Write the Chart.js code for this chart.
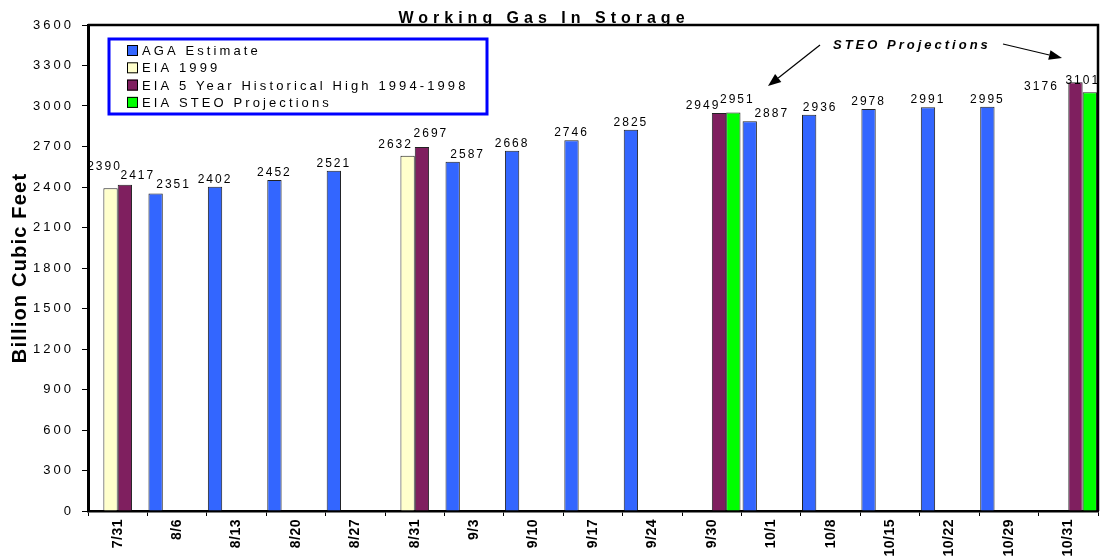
<!DOCTYPE html>
<html>
<head>
<meta charset="utf-8">
<title>Working Gas In Storage</title>
<script src="https://cdn.jsdelivr.net/npm/chart.js@4.4.1/dist/chart.umd.min.js"></script>
<style>
  html, body { margin: 0; padding: 0; background: #fff; }
</style>
</head>
<body>
<canvas id="gasChart" width="1107" height="556"></canvas>
<script>
// Week labels and storage levels (Bcf)
const weeks = ['7/31', '8/6', '8/13', '8/20', '8/27', '8/31', '9/3', '9/10', '9/17',
               '9/24', '9/30', '10/1', '10/8', '10/15', '10/22', '10/29', '10/31'];
const agaEstimate = [null, 2351, 2402, 2452, 2521, null, 2587, 2668, 2746,
                     2825, null, 2887, 2936, 2978, 2991, 2995, null];
const eia1999 = [2390, null, null, null, null, 2632, null, null, null,
                 null, null, null, null, null, null, null, null];
const eia5YearHigh = [2417, null, null, null, null, 2697, null, null, null,
                      null, 2949, null, null, null, null, null, 3176];
const steoProjections = [null, null, null, null, null, null, null, null, null,
                         null, 2951, null, null, null, null, null, 3101];
const yMax = 3600;
const yStep = 300;

// label nudges, "dataset:index" -> [dx, dy] relative to the bar top
const labelNudge = {
  '1:0': [-6, -14], '2:0': [13, -2], '0:1': [18, -2],
  '1:5': [-12, -4], '2:5': [9, -6], '0:6': [15, 0],
  '2:10': [-16, 0], '3:10': [4, -6], '0:11': [22, 0], '0:12': [11, 0],
  '2:16': [-34, 12], '3:16': [-7, -4]
};

const FONT = 'Arial, "Liberation Sans", sans-serif';

// letter spacing for the scale texts (the original is widely tracked)
const spacingPlugin = {
  id: 'spacing',
  afterLayout(chart) {
    const wrap = (scale, labelGap, titleGap) => {
      if (scale._spaced) return;
      const drawLabels = scale.drawLabels.bind(scale);
      const drawTitle = scale.drawTitle.bind(scale);
      scale.drawLabels = function(area) {
        scale.ctx.letterSpacing = labelGap;
        drawLabels(area);
        scale.ctx.letterSpacing = '0px';
      };
      scale.drawTitle = function() {
        scale.ctx.letterSpacing = titleGap;
        drawTitle();
        scale.ctx.letterSpacing = '0px';
      };
      scale._spaced = true;
    };
    wrap(chart.scales.x, '0.5px', '0px');
    wrap(chart.scales.y, '3px', '1.2px');
  }
};

const decorPlugin = {
  id: 'decor',
  afterDatasetsDraw(chart) {
    const ctx = chart.ctx;
    ctx.save();
    ctx.font = '12px ' + FONT;
    ctx.letterSpacing = '2px';
    ctx.fillStyle = '#000';
    ctx.textAlign = 'center';
    ctx.textBaseline = 'alphabetic';
    chart.data.datasets.forEach((ds, di) => {
      const meta = chart.getDatasetMeta(di);
      meta.data.forEach((bar, i) => {
        const v = ds.data[i];
        if (v === null || v === undefined) return;
        const n = labelNudge[di + ':' + i] || [0, 0];
        ctx.fillText(String(v), bar.x + n[0], bar.y - 4 + n[1]);
      });
    });
    ctx.restore();
  },
  afterDraw(chart) {
    const ctx = chart.ctx;
    const a = chart.chartArea;
    ctx.save();

    // frame on top and right
    ctx.strokeStyle = '#000';
    ctx.lineWidth = 2.5;
    ctx.beginPath();
    ctx.moveTo(a.left, a.top);
    ctx.lineTo(a.right, a.top);
    ctx.lineTo(a.right, a.bottom);
    ctx.stroke();

    // title
    ctx.fillStyle = '#000';
    ctx.font = 'bold 16px ' + FONT;
    ctx.letterSpacing = '5px';
    ctx.textAlign = 'center';
    ctx.textBaseline = 'alphabetic';
    ctx.fillText('Working Gas In Storage', 544, 23);

    // legend box
    const lx = a.left + 21, ly = a.top + 14, lw = 378, lh = 75;
    ctx.fillStyle = '#fff';
    ctx.fillRect(lx, ly, lw, lh);
    ctx.strokeStyle = '#0000FF';
    ctx.lineWidth = 3;
    ctx.strokeRect(lx, ly, lw, lh);
    ctx.font = '13px ' + FONT;
    ctx.letterSpacing = '3.1px';
    ctx.textAlign = 'left';
    chart.data.datasets.forEach((ds, i) => {
      const rowY = ly + 11 + i * 17.3;
      ctx.fillStyle = ds.backgroundColor;
      ctx.fillRect(lx + 18, rowY - 5, 11, 11);
      ctx.strokeStyle = '#000';
      ctx.lineWidth = 1;
      ctx.strokeRect(lx + 18.5, rowY - 4.5, 10, 10);
      ctx.fillStyle = '#000';
      ctx.fillText(ds.label, lx + 33, rowY + 5);
    });

    // STEO Projections callout
    ctx.font = 'italic bold 13px ' + FONT;
    ctx.letterSpacing = '3px';
    ctx.fillStyle = '#000';
    ctx.fillText('STEO Projections', 833, 49);
    const arrow = (x1, y1, x2, y2) => {
      const ang = Math.atan2(y2 - y1, x2 - x1);
      const len = 13, half = 5;
      const bx = x2 - len * Math.cos(ang), by = y2 - len * Math.sin(ang);
      ctx.strokeStyle = '#000';
      ctx.lineWidth = 1.2;
      ctx.beginPath();
      ctx.moveTo(x1, y1);
      ctx.lineTo(bx, by);
      ctx.stroke();
      ctx.beginPath();
      ctx.moveTo(x2, y2);
      ctx.lineTo(bx + half * Math.sin(ang), by - half * Math.cos(ang));
      ctx.lineTo(bx - half * Math.sin(ang), by + half * Math.cos(ang));
      ctx.closePath();
      ctx.fill();
    };
    arrow(820, 45, 768, 86);
    arrow(1003, 44, 1062, 58);

    ctx.restore();
  }
};

const ctx = document.getElementById('gasChart');
new Chart(ctx, {
  type: 'bar',
  data: {
    labels: weeks,
    datasets: [
      { label: 'AGA Estimate', data: agaEstimate, backgroundColor: '#3366FF' },
      { label: 'EIA 1999', data: eia1999, backgroundColor: '#FFFFCC' },
      { label: 'EIA 5 Year Historical High 1994-1998', data: eia5YearHigh, backgroundColor: '#7F1F5F' },
      { label: 'EIA STEO Projections', data: steoProjections, backgroundColor: '#00FF00' }
    ].map(d => Object.assign(d, {
      borderColor: '#222',
      borderWidth: 1,
      categoryPercentage: 0.965,
      barPercentage: 1.0
    }))
  },
  options: {
    responsive: false,
    animation: false,
    layout: { padding: { top: 25, right: 9, left: 0, bottom: 0 } },
    plugins: {
      legend: { display: false },
      title: { display: false },
      tooltip: { enabled: false }
    },
    scales: {
      x: {
        offset: true,
        grid: { display: true, drawOnChartArea: false, offset: true, tickLength: 5, color: '#000' },
        border: { display: true, color: '#000', width: 2.5 },
        ticks: {
          color: '#000',
          font: { family: FONT, size: 14, weight: 'bold' },
          minRotation: 90,
          maxRotation: 90,
          autoSkip: false,
          padding: 3
        },
        afterFit(scale) { scale.height = 45; }
      },
      y: {
        min: 0,
        max: yMax,
        grid: { drawOnChartArea: false, tickLength: 6, color: '#000' },
        border: { display: true, color: '#000', width: 3 },
        ticks: {
          stepSize: yStep,
          color: '#000',
          font: { family: FONT, size: 13 },
          padding: 8,
          callback: v => String(v)
        },
        title: {
          display: true,
          text: 'Billion Cubic Feet',
          color: '#000',
          font: { family: FONT, size: 20, weight: 'bold' },
          padding: { top: 8, bottom: 0 }
        },
        afterFit(scale) { scale.width = 88; }
      }
    }
  },
  plugins: [spacingPlugin, decorPlugin]
});
</script>
</body>
</html>
